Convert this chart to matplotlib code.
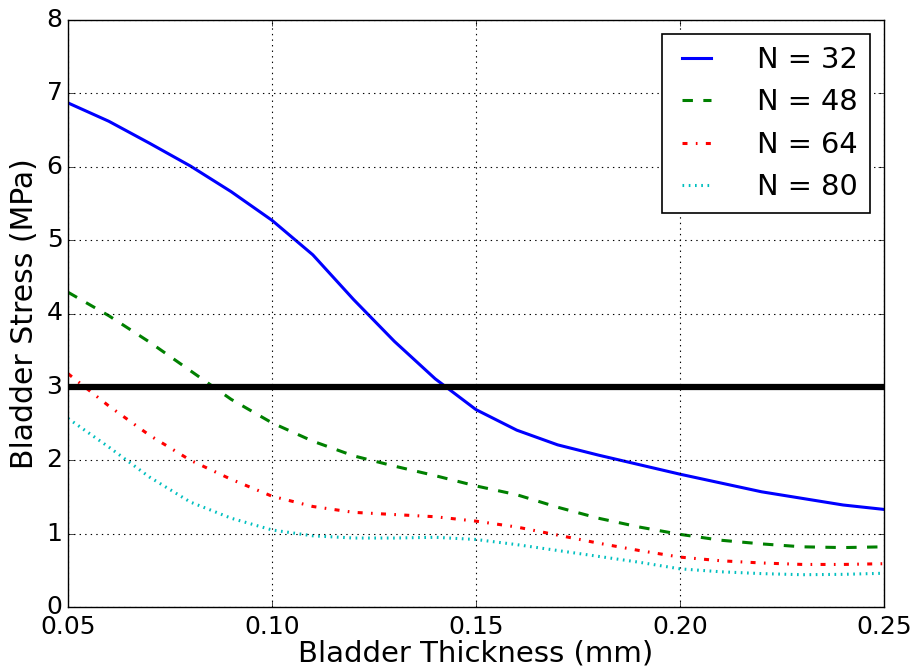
import matplotlib
matplotlib.use("Agg")
import matplotlib.pyplot as plt

plt.style.use("classic")

thickness = [0.05, 0.06, 0.07, 0.08, 0.09, 0.10, 0.11, 0.12, 0.13, 0.14, 0.15,
             0.16, 0.17, 0.18, 0.19, 0.20, 0.21, 0.22, 0.23, 0.24, 0.25]

stress_n32 = [6.87, 6.62, 6.32, 6.01, 5.66, 5.27, 4.80, 4.19, 3.62, 3.11, 2.69,
              2.41, 2.21, 2.07, 1.94, 1.81, 1.69, 1.57, 1.48, 1.39, 1.33]
stress_n48 = [4.29, 3.97, 3.61, 3.22, 2.83, 2.51, 2.26, 2.06, 1.92, 1.79, 1.65,
              1.53, 1.36, 1.21, 1.09, 0.99, 0.91, 0.86, 0.82, 0.81, 0.82]
stress_n64 = [3.18, 2.74, 2.34, 2.00, 1.74, 1.51, 1.37, 1.29, 1.26, 1.23, 1.17,
              1.09, 0.98, 0.87, 0.77, 0.68, 0.63, 0.60, 0.58, 0.58, 0.59]
stress_n80 = [2.57, 2.18, 1.77, 1.43, 1.21, 1.05, 0.97, 0.94, 0.94, 0.95, 0.92,
              0.85, 0.77, 0.69, 0.61, 0.52, 0.48, 0.455, 0.44, 0.445, 0.46]

stress_limit = 3.0

series_labels = ["N = 32", "N = 48", "N = 64", "N = 80"]

fig = plt.figure(figsize=(9.14, 6.70), dpi=100, facecolor="white")
ax = fig.add_axes([68 / 914, 1 - 607 / 670, (884 - 68) / 914, (607 - 20) / 670])

ax.plot(thickness, stress_n32, color="blue", ls="-", lw=2.2, label=series_labels[0])
ax.plot(thickness, stress_n48, color="green", lw=2.2, label=series_labels[1],
        dashes=(7.5, 7.5))
ax.plot(thickness, stress_n64, color="red", lw=2.2, label=series_labels[2],
        dashes=(3.6, 6.0, 1.2, 6.0))
ax.plot(thickness, stress_n80, color="c", lw=2.2, label=series_labels[3],
        dashes=(1.2, 3.3))
ax.axhline(stress_limit, color="black", lw=4.5)

ax.set_xlim(0.05, 0.25)
ax.set_ylim(0, 8)
ax.set_xticks([0.05, 0.10, 0.15, 0.20, 0.25])
ax.set_xticklabels(["0.05", "0.10", "0.15", "0.20", "0.25"])
ax.set_yticks(range(0, 9))
ax.grid(True, color="black", linestyle=":", lw=0.8)
ax.tick_params(axis="x", labelsize=18, pad=6)
ax.tick_params(axis="y", labelsize=18, pad=4)

ax.set_xlabel("Bladder Thickness (mm)", fontsize=21, labelpad=0)
ax.set_ylabel("Bladder Stress (MPa)", fontsize=21.5, labelpad=5)

leg = ax.legend(loc="upper right", fontsize=20.8, frameon=True, fancybox=False,
                handlelength=1.6, handletextpad=1.3, borderpad=0.4,
                labelspacing=0.5)
leg.get_frame().set_linewidth(1.2)

fig.savefig("out.png", dpi=100, facecolor="white")
